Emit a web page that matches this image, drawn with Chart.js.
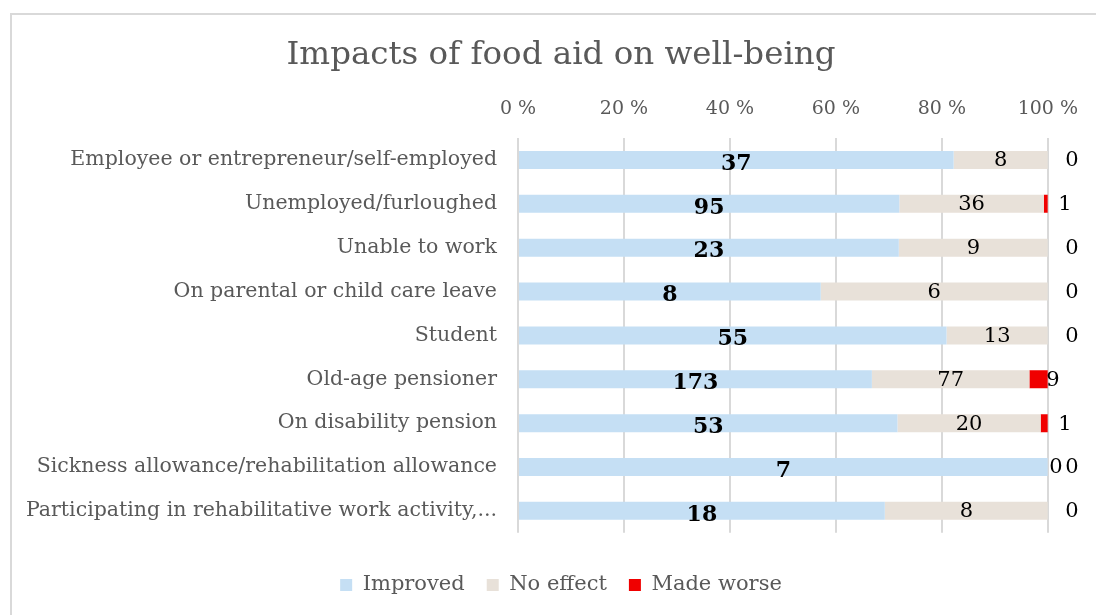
<!DOCTYPE html>
<html>
<head>
<meta charset="utf-8">
<title>Impacts of food aid on well-being</title>
<script src="https://cdn.jsdelivr.net/npm/chart.js@4.4.1/dist/chart.umd.min.js"></script>
<style>
  html, body { margin: 0; padding: 0; background: #fff; }
</style>
</head>
<body>
<canvas id="chart" width="1096" height="615"></canvas>
<script>
const categories = [
  'Employee or entrepreneur/self-employed',
  'Unemployed/furloughed',
  'Unable to work',
  'On parental or child care leave',
  'Student',
  'Old-age pensioner',
  'On disability pension',
  'Sickness allowance/rehabilitation allowance',
  'Participating in rehabilitative work activity,...'
];
const improved  = [37, 95, 23, 8, 55, 173, 53, 7, 18];
const noEffect  = [8, 36, 9, 6, 13, 77, 20, 0, 8];
const madeWorse = [0, 1, 0, 0, 0, 9, 1, 0, 0];
const xTicks = [0, 20, 40, 60, 80, 100];

// 100 % stacked: each row is scaled by its own total
const totals = improved.map((v, i) => v + noEffect[i] + madeWorse[i]);
const share = arr => arr.map((v, i) => v / totals[i] * 100);

const FONT = "'DejaVu Serif', 'Liberation Serif', serif";
const GREY = '#595959';

Chart.defaults.font.family = FONT;

// frame around the whole chart
const frame = {
  id: 'frame',
  beforeDraw(chart) {
    const ctx = chart.ctx;
    ctx.save();
    ctx.fillStyle = '#fff';
    ctx.fillRect(0, 0, chart.width, chart.height);
    ctx.strokeStyle = '#d9d9d9';
    ctx.lineWidth = 2;
    ctx.strokeRect(11, 14, chart.width + 20, chart.height + 20);
    ctx.restore();
  }
};

// count labels on the segments
const valueLabels = {
  id: 'valueLabels',
  afterDatasetsDraw(chart) {
    const ctx = chart.ctx;
    ctx.save();
    ctx.fillStyle = '#000';
    ctx.textBaseline = 'middle';
    ctx.textAlign = 'center';
    chart.data.datasets.forEach((ds, di) => {
      const meta = chart.getDatasetMeta(di);
      meta.data.forEach((bar, i) => {
        const n = ds.counts[i];
        const mid = (bar.x + bar.base) / 2;
        if (di === 0) {
          ctx.font = 'bold 22px ' + FONT;
          ctx.fillText(String(n), mid, bar.y + 4);
        } else if (di === 1) {
          ctx.font = '21px ' + FONT;
          ctx.fillText(String(n), n === 0 ? mid + 8 : mid, bar.y + 1);
        } else {
          ctx.font = '21px ' + FONT;
          const w = bar.x - bar.base;
          const x = n === 0 ? bar.x + 24 : (w > 12 ? bar.x + 5 : bar.x + 17);
          ctx.fillText(String(n), x, bar.y + 1);
        }
      });
    });
    ctx.restore();
  }
};

new Chart(document.getElementById('chart'), {
  type: 'bar',
  data: {
    labels: categories,
    datasets: [
      { label: 'Improved',   data: share(improved),  counts: improved,  backgroundColor: '#c5dff4' },
      { label: 'No effect',  data: share(noEffect),  counts: noEffect,  backgroundColor: '#e8e1d9' },
      { label: 'Made worse', data: share(madeWorse), counts: madeWorse, backgroundColor: '#f00000' }
    ]
  },
  options: {
    indexAxis: 'y',
    responsive: false,
    animation: false,
    layout: { padding: { left: 65, right: 39, top: 0, bottom: 9.5 } },
    datasets: {
      bar: { borderWidth: 0, barPercentage: 0.41, categoryPercentage: 1 }
    },
    scales: {
      x: {
        position: 'top',
        stacked: true,
        min: 0,
        max: 100,
        afterBuildTicks: s => { s.ticks = xTicks.map(v => ({ value: v })); },
        afterFit: s => { s.height = 63; },
        ticks: {
          callback: v => v + ' %',
          padding: 18,
          color: GREY,
          font: { size: 19 }
        },
        grid: { color: '#d9d9d9', lineWidth: 2, drawTicks: false },
        border: { display: false }
      },
      y: {
        stacked: true,
        afterFit: s => {
          s.width = 453;
          // long category names run past the axis box to the left
          s._computeLabelArea = () => undefined;
        },
        ticks: { padding: 21, color: GREY, font: { size: 20.5 } },
        grid: { display: false, drawTicks: false },
        border: { display: false }
      }
    },
    plugins: {
      title: {
        display: true,
        text: 'Impacts of food aid on well-being',
        color: GREY,
        font: { size: 32.5, weight: 'normal' },
        padding: { top: 36, bottom: 0 }
      },
      legend: {
        position: 'bottom',
        title: { display: true, text: ' ', font: { size: 1 }, padding: { top: 0, bottom: 18.5 } },
        labels: {
          boxWidth: 12,
          boxHeight: 12,
          padding: 22,
          color: GREY,
          font: { size: 21 }
        }
      },
      tooltip: { enabled: false }
    }
  },
  plugins: [frame, valueLabels]
});
</script>
</body>
</html>
